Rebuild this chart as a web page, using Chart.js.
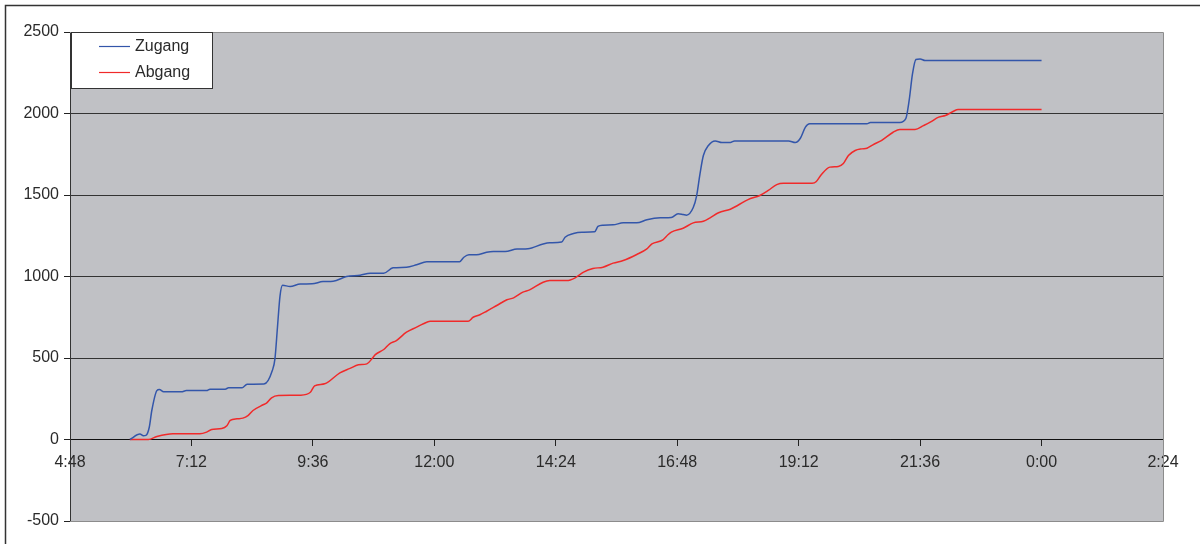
<!DOCTYPE html>
<html>
<head>
<meta charset="utf-8">
<title>Zugang / Abgang</title>
<script src="https://cdn.jsdelivr.net/npm/chart.js@4/dist/chart.umd.min.js"></script>
<style>
    html, body { margin: 0; padding: 0; background: #fff; }
    #wrap { position: relative; width: 1200px; height: 544px; overflow: hidden; }
</style>
</head>
<body>
<div id="wrap"><canvas id="flowChart" width="1200" height="544"></canvas></div>
<script>
// Uhrzeiten (h:mm, 24:00 = Mitternacht) und kumulierte Werte je Reihe
const zugangTimes = ['5:59', '6:11', '6:15', '6:18', '6:22', '6:25', '6:31', '6:34', '6:39', '7:00', '7:06', '7:30', '7:34', '7:52', '7:56', '8:12', '8:18', '8:38', '8:48', '8:51', '8:54', '8:57', '9:00', '9:09', '9:21', '9:35', '9:48', '10:00', '10:16', '10:32', '10:44', '11:00', '11:11', '11:27', '11:39', '11:51', '12:30', '12:35', '12:41', '12:50', '13:02', '13:10', '13:24', '13:38', '13:51', '14:09', '14:17', '14:31', '14:35', '14:45', '14:55', '15:10', '15:14', '15:20', '15:32', '15:44', '16:00', '16:12', '16:28', '16:41', '16:49', '16:55', '16:59', '17:07', '17:11', '17:15', '17:19', '17:25', '17:33', '17:41', '17:51', '17:56', '19:00', '19:08', '19:14', '19:20', '19:25', '20:33', '20:37', '21:12', '21:19', '21:23', '21:27', '21:31', '21:36', '21:42', '24:00'];
const zugangValues = [0, 33, 23, 25, 75, 178, 300, 307, 293, 293, 300, 300, 309, 309, 317, 317, 339, 340, 425, 495, 689, 880, 946, 939, 954, 955, 969, 971, 1000, 1008, 1020, 1020, 1053, 1057, 1072, 1090, 1091, 1118, 1133, 1133, 1149, 1153, 1153, 1168, 1170, 1200, 1207, 1211, 1241, 1264, 1272, 1274, 1307, 1315, 1317, 1329, 1329, 1348, 1360, 1362, 1385, 1380, 1376, 1423, 1495, 1630, 1742, 1804, 1832, 1822, 1822, 1832, 1832, 1822, 1848, 1916, 1937, 1937, 1945, 1945, 1968, 2080, 2244, 2331, 2335, 2325, 2325];

const abgangTimes = ['5:59', '6:21', '6:31', '6:50', '7:22', '7:30', '7:36', '7:48', '7:54', '7:58', '8:06', '8:13', '8:19', '8:25', '8:37', '8:41', '8:47', '8:55', '9:21', '9:33', '9:38', '9:50', '10:08', '10:20', '10:30', '10:40', '10:46', '10:50', '11:00', '11:07', '11:15', '11:27', '11:39', '11:47', '11:55', '12:40', '12:46', '12:54', '13:02', '13:14', '13:26', '13:34', '13:45', '13:53', '14:09', '14:17', '14:37', '14:47', '14:57', '15:08', '15:20', '15:32', '15:44', '16:00', '16:12', '16:18', '16:31', '16:37', '16:41', '16:55', '17:07', '17:19', '17:27', '17:37', '17:51', '18:00', '18:12', '18:26', '18:36', '18:46', '18:54', '19:28', '19:33', '19:39', '19:49', '19:59', '20:05', '20:11', '20:19', '20:27', '20:33', '20:40', '20:50', '21:04', '21:12', '21:30', '21:40', '21:48', '21:58', '22:06', '22:15', '22:21', '24:00'];
const abgangValues = [0, 0, 18, 35, 35, 45, 61, 67, 84, 117, 127, 131, 147, 178, 213, 223, 256, 270, 272, 290, 329, 342, 409, 436, 458, 464, 495, 521, 552, 587, 607, 658, 689, 710, 725, 725, 750, 765, 787, 822, 857, 869, 904, 918, 965, 975, 975, 992, 1027, 1049, 1057, 1082, 1098, 1135, 1170, 1200, 1225, 1256, 1272, 1296, 1329, 1339, 1360, 1391, 1413, 1437, 1472, 1497, 1528, 1564, 1572, 1572, 1583, 1626, 1671, 1675, 1693, 1742, 1773, 1783, 1787, 1808, 1834, 1885, 1902, 1902, 1926, 1947, 1978, 1988, 2012, 2025, 2025];

const seriesLabels = ['Zugang', 'Abgang'];

// Achsen: 4:48 bis 2:24 (Folgetag) in Minuten, Schritt 2:24
const xMin = 288, xMax = 1584, xStep = 144;
const yMin = -500, yMax = 2500, yStep = 500;

function toMinutes(t) {
    const [h, m] = t.split(':').map(Number);
    return h * 60 + m;
}

function formatTime(mins) {
    const m = ((Math.round(mins) % 1440) + 1440) % 1440;
    return Math.floor(m / 60) + ':' + String(m % 60).padStart(2, '0');
}

function toPoints(times, values) {
    return times.map((t, i) => ({ x: toMinutes(t), y: values[i] }));
}

const FONT = '"Liberation Sans", Arial, sans-serif';
const TEXT = '#2a2a2a';

// grauer Plotbereich und äußerer Rahmen
const plotBackground = {
    id: 'plotBackground',
    beforeDraw(chart) {
        const { ctx, chartArea: a } = chart;
        ctx.save();
        ctx.strokeStyle = '#333';
        ctx.lineWidth = 1.5;
        ctx.strokeRect(5.5, 5.5, 1400, 800);
        ctx.fillStyle = '#c0c1c5';
        ctx.fillRect(a.left, a.top, a.right - a.left, a.bottom - a.top);
        ctx.restore();
    },
    afterDatasetsDraw(chart) {
        const { ctx, chartArea: a } = chart;
        ctx.save();
        ctx.strokeStyle = '#8c8c8c';
        ctx.lineWidth = 1;
        ctx.beginPath();
        ctx.moveTo(a.left, a.top + 0.5);
        ctx.lineTo(a.right + 0.5, a.top + 0.5);
        ctx.lineTo(a.right + 0.5, a.bottom + 0.5);
        ctx.lineTo(a.left, a.bottom + 0.5);
        ctx.stroke();
        ctx.restore();
    }
};

// Legende im Plotbereich oben links
const boxLegend = {
    id: 'boxLegend',
    afterDraw(chart) {
        const { ctx, chartArea: a } = chart;
        const x = a.left + 1, y = a.top, w = 141, h = 56;
        ctx.save();
        ctx.fillStyle = '#fff';
        ctx.fillRect(x, y, w, h);
        ctx.strokeStyle = '#333';
        ctx.lineWidth = 1;
        ctx.strokeRect(x + 0.5, y + 0.5, w, h);
        ctx.font = '16px ' + FONT;
        ctx.textBaseline = 'middle';
        chart.data.datasets.forEach((ds, i) => {
            const ly = y + 14.5 + i * 26;
            ctx.strokeStyle = ds.borderColor;
            ctx.lineWidth = 1.2;
            ctx.beginPath();
            ctx.moveTo(x + 28, ly);
            ctx.lineTo(x + 59, ly);
            ctx.stroke();
            ctx.fillStyle = TEXT;
            ctx.fillText(ds.label, x + 64, ly);
        });
        ctx.restore();
    }
};

new Chart(document.getElementById('flowChart'), {
    type: 'line',
    data: {
        datasets: [{
            label: seriesLabels[0],
            data: toPoints(zugangTimes, zugangValues),
            borderColor: '#3356aa',
            borderWidth: 1.5,
            pointRadius: 0,
            cubicInterpolationMode: 'monotone',
            fill: false
        }, {
            label: seriesLabels[1],
            data: toPoints(abgangTimes, abgangValues),
            borderColor: '#f02a2a',
            borderWidth: 1.5,
            pointRadius: 0,
            cubicInterpolationMode: 'monotone',
            fill: false
        }]
    },
    options: {
        responsive: false,
        animation: false,
        layout: { padding: { left: 0, top: 32, right: 37, bottom: 23 } },
        scales: {
            x: {
                type: 'linear',
                position: { y: 0 },
                min: xMin,
                max: xMax,
                grid: {
                    drawOnChartArea: false,
                    drawTicks: true,
                    tickLength: 6,
                    tickColor: '#222'
                },
                border: { display: true, color: '#111', width: 1 },
                ticks: {
                    stepSize: xStep,
                    autoSkip: false,
                    maxRotation: 0,
                    padding: 7,
                    color: TEXT,
                    font: { family: FONT, size: 16 },
                    callback: v => formatTime(v)
                }
            },
            y: {
                min: yMin,
                max: yMax,
                afterFit: s => { s.width = 70; },
                grid: {
                    color: ctx => (ctx.tick && (ctx.tick.value === yMin || ctx.tick.value === yMax)) ? '#8c8c8c' : '#333',
                    tickColor: '#222',
                    tickLength: 6,
                    lineWidth: 1
                },
                border: { display: true, color: '#333', width: 1 },
                ticks: {
                    stepSize: yStep,
                    padding: 5,
                    color: TEXT,
                    font: { family: FONT, size: 16 },
                    callback: v => String(v)
                }
            }
        },
        plugins: {
            legend: { display: false },
            tooltip: { enabled: false }
        }
    },
    plugins: [plotBackground, boxLegend]
});
</script>
</body>
</html>
